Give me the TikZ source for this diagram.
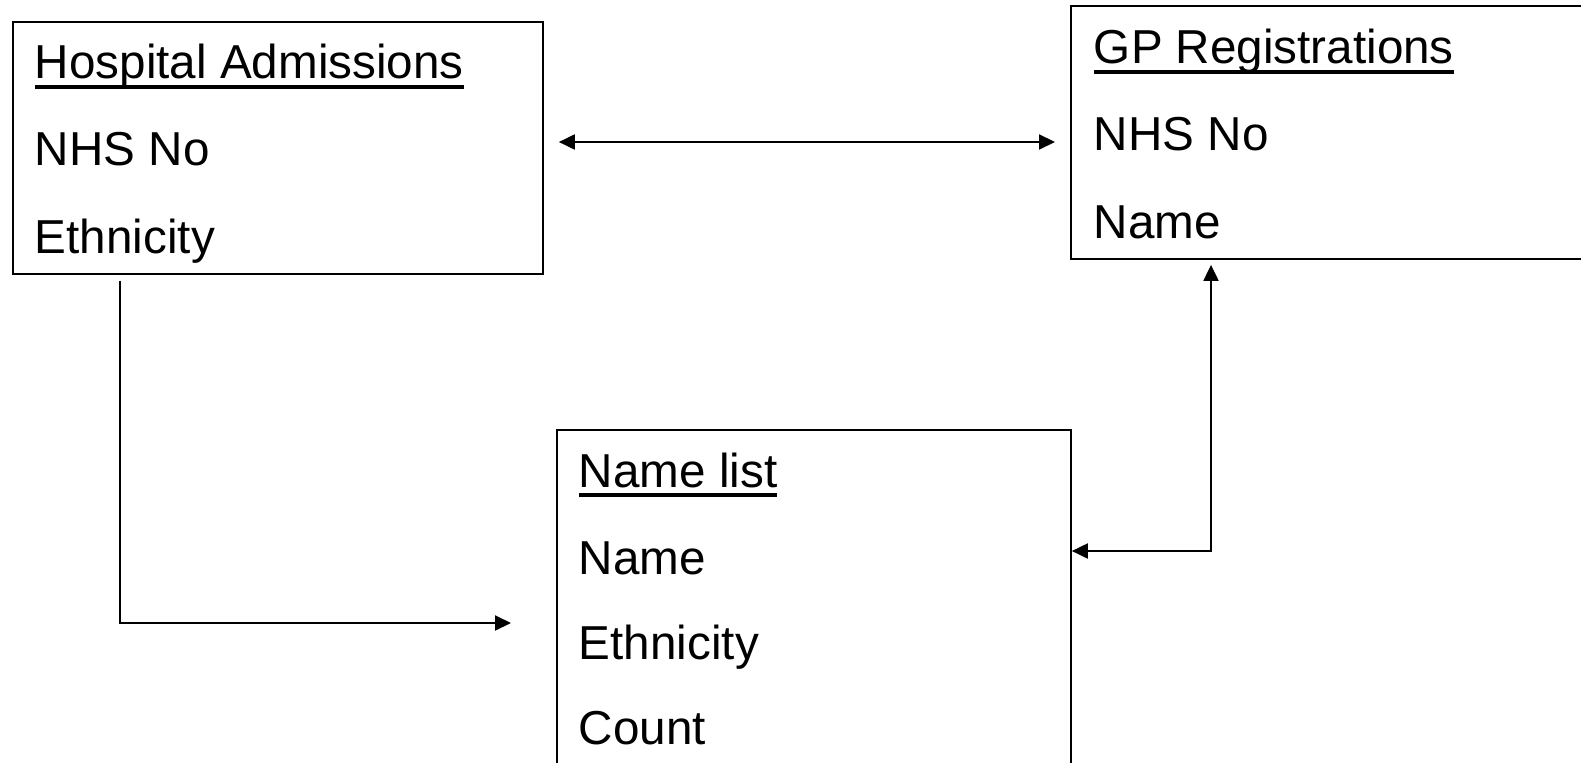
\documentclass[tikz,border=0pt]{standalone}
\usepackage{fontspec}
\setmainfont{Liberation Sans}
\usetikzlibrary{arrows.meta, positioning}

\newcommand{\uhead}[1]{\setbox0\hbox{#1}\rlap{\vrule height -3.6pt depth 5.6pt width \wd0}\box0}

\begin{document}
\begin{tikzpicture}[x=0.02cm, y=-0.02cm, line width=1.1pt,
    >={Triangle[length=0.32cm, width=0.3cm]},
    tbl/.style={draw, anchor=north west, inner sep=0pt},
    fld/.style={anchor=base west, inner sep=0pt, font=\fontsize{27.1}{32}\selectfont}]
    \useasboundingbox (0,0) rectangle (1581,763);

    % Hospital Admissions
    \node[tbl, minimum width=10.6cm, minimum height=5.04cm] (ha) at (12,21) {};
    \node[fld] (ha0) at (34,79) {\uhead{Hospital Admissions}};
    \node[fld] (ha1) at (34,166) {NHS No};
    \node[fld] (ha2) at (34,254) {Ethnicity};

    % GP Registrations
    \node[tbl, minimum width=10.6cm, minimum height=5.06cm] (gp) at (1070,5) {};
    \node[fld] (gp0) at (1093,64) {\uhead{GP Registrations}};
    \node[fld] (gp1) at (1093,151) {NHS No};
    \node[fld] (gp2) at (1093,239) {Name};

    % Name list
    \node[tbl, minimum width=10.28cm, minimum height=7cm] (nl) at (556,429) {};
    \node[fld] (nl0) at (578,487) {\uhead{Name list}};
    \node[fld] (nl1) at (578,574) {Name};
    \node[fld] (nl2) at (578,659) {Ethnicity};
    \node[fld] (nl3) at (578,744) {Count};

    % Verbindungen
    \draw[<->, shorten <=0.3cm, shorten >=0.3cm] (ha.east |- 0,142) -- (gp.west |- 0,142);
    \coordinate (hend) at (511,623);
    \draw[->, shorten <=0.12cm] (ha.south -| hend) ++(-391,0) |- (hend);
    \draw[<->, shorten >=0.1cm] (nl.east |- 0,551) -| (gp.south -| 1211,0);
\end{tikzpicture}
\end{document}
